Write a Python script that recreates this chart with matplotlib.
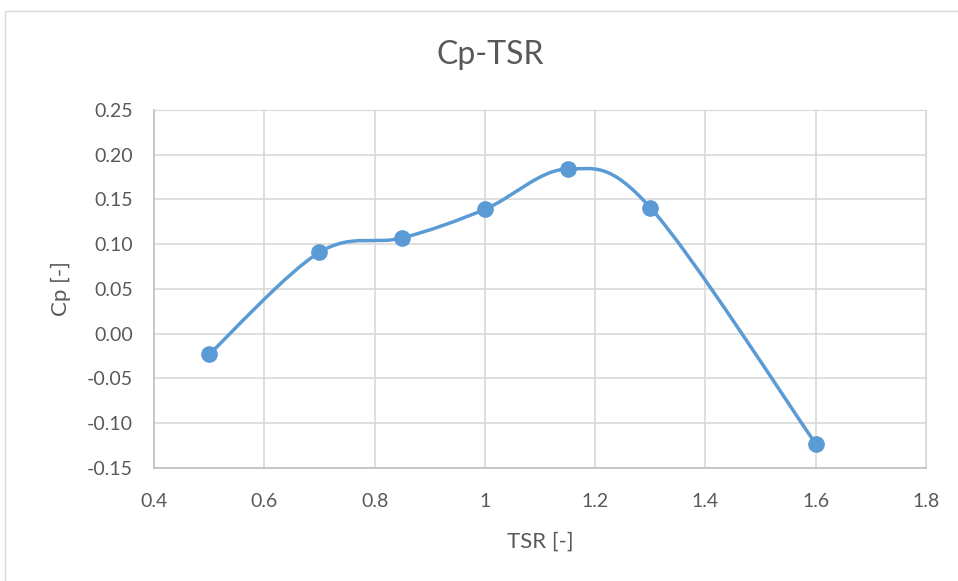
import numpy as np
import matplotlib
matplotlib.use("Agg")
import matplotlib.pyplot as plt
from matplotlib.path import Path
from matplotlib.patches import PathPatch, Rectangle

plt.rcParams['font.family'] = ['Lato', 'DejaVu Sans']

tsr = [0.5, 0.7, 0.85, 1.0, 1.15, 1.3, 1.6]
cp = [-0.023, 0.091, 0.107, 0.139, 0.184, 0.141, -0.123]

x_ticks = [0.4, 0.6, 0.8, 1.0, 1.2, 1.4, 1.6, 1.8]
x_labels = ['0.4', '0.6', '0.8', '1', '1.2', '1.4', '1.6', '1.8']
y_ticks = [-0.15, -0.10, -0.05, 0.00, 0.05, 0.10, 0.15, 0.20, 0.25]

blue = '#5B9BD5'
grey = '#595959'
grid = '#D9D9D9'

fig = plt.figure(figsize=(9.58, 5.81), dpi=100)
ax = fig.add_axes([0.1608, 0.1945, 0.8058, 0.6162])

# outer chart border
fig.patches.append(Rectangle((5 / 958, -0.05), 1.1, 1 - 11 / 581 + 0.05,
                             transform=fig.transFigure, fill=False,
                             edgecolor='#D9D9D9', linewidth=1))

# smoothed line like excel (bezier through the points)
pts = np.column_stack([tsr, cp])
ext = np.vstack([pts[0], pts, pts[-1]])
verts = [pts[0]]
codes = [Path.MOVETO]
for i in range(1, len(ext) - 2):
    p0, p1, p2, p3 = ext[i - 1], ext[i], ext[i + 1], ext[i + 2]
    verts += [p1 + (p2 - p0) / 6, p2 - (p3 - p1) / 6, p2]
    codes += [Path.CURVE4] * 3
ax.add_patch(PathPatch(Path(verts, codes), fill=False, edgecolor=blue,
                       linewidth=2.5, capstyle='round', zorder=3))
ax.plot(tsr, cp, linestyle='none', marker='o', markersize=11,
        color=blue, zorder=4)

ax.set_xlim(0.4, 1.8)
ax.set_ylim(-0.15, 0.25)
ax.set_xticks(x_ticks)
ax.set_xticklabels(x_labels)
ax.set_yticks(y_ticks)
ax.set_yticklabels([f'{v:.2f}' for v in y_ticks])
ax.grid(True, color=grid, linewidth=1.2)
ax.set_axisbelow(True)
for s in ['top', 'right']:
    ax.spines[s].set_color(grid)
for s in ['left', 'bottom']:
    ax.spines[s].set_color('#BFBFBF')
    ax.spines[s].set_linewidth(1.2)
ax.tick_params(length=0, labelsize=14, colors=grey)
ax.tick_params(axis='y', pad=15)
ax.tick_params(axis='x', pad=18)

fig.text(490 / 958, 1 - 55 / 581, 'Cp-TSR', fontsize=23, color=grey,
         ha='center', va='center')
ax.set_xlabel('TSR [-]', fontsize=16, color=grey, va='center')
ax.set_ylabel('Cp [-]', fontsize=16, color=grey, va='center')
ax.xaxis.set_label_coords(0.5, (468 - 542) / 358)
ax.yaxis.set_label_coords((61 - 154) / 772, 0.5)

fig.savefig('out.png', dpi=100)
